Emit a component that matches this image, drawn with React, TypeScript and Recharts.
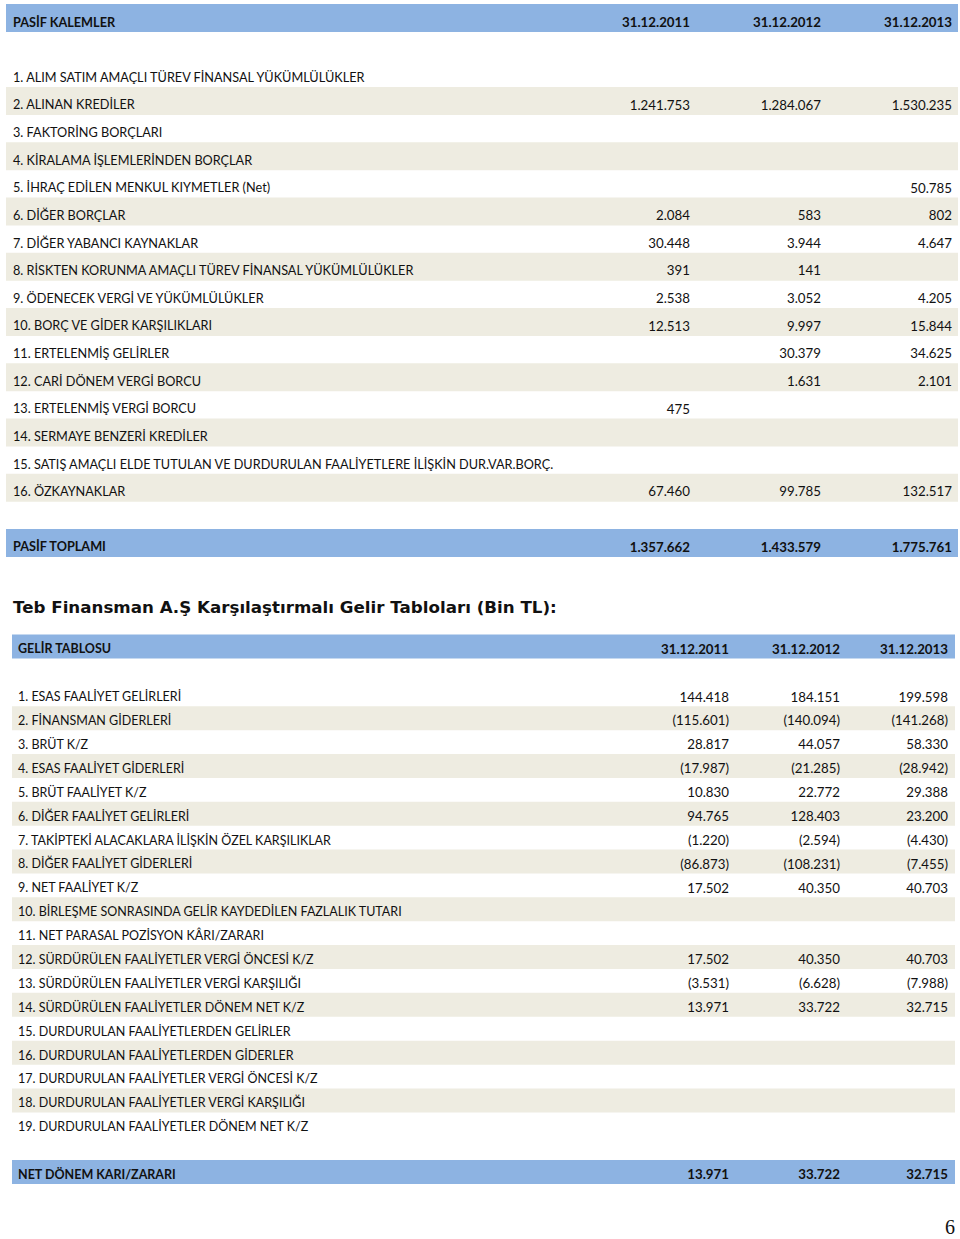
import React from 'react';
import { Surface, Rectangle, Text } from 'recharts';

// ---- Pasif kalemler (bilanço) ----
const pasifYears = ['31.12.2011', '31.12.2012', '31.12.2013'];
const pasifLabels = [
  '1. ALIM SATIM AMAÇLI TÜREV FİNANSAL YÜKÜMLÜLÜKLER',
  '2. ALINAN KREDİLER',
  '3. FAKTORİNG BORÇLARI',
  '4. KİRALAMA İŞLEMLERİNDEN BORÇLAR',
  '5. İHRAÇ EDİLEN MENKUL KIYMETLER (Net)',
  '6. DİĞER BORÇLAR',
  '7. DİĞER YABANCI KAYNAKLAR',
  '8. RİSKTEN KORUNMA AMAÇLI TÜREV FİNANSAL YÜKÜMLÜLÜKLER',
  '9. ÖDENECEK VERGİ VE YÜKÜMLÜLÜKLER',
  '10. BORÇ VE GİDER KARŞILIKLARI',
  '11. ERTELENMİŞ GELİRLER',
  '12. CARİ DÖNEM VERGİ BORCU',
  '13. ERTELENMİŞ VERGİ BORCU',
  '14. SERMAYE BENZERİ KREDİLER',
  '15. SATIŞ AMAÇLI ELDE TUTULAN VE DURDURULAN FAALİYETLERE İLİŞKİN DUR.VAR.BORÇ.',
  '16. ÖZKAYNAKLAR',
];
const pasif2011 = [null, 1241753, null, null, null, 2084, 30448, 391, 2538, 12513, null, null, 475, null, null, 67460];
const pasif2012 = [null, 1284067, null, null, null, 583, 3944, 141, 3052, 9997, 30379, 1631, null, null, null, 99785];
const pasif2013 = [null, 1530235, null, null, 50785, 802, 4647, null, 4205, 15844, 34625, 2101, null, null, null, 132517];
const pasifTotal = [1357662, 1433579, 1775761];

// ---- Gelir tablosu ----
const gelirTitle = 'Teb Finansman A.Ş Karşılaştırmalı Gelir Tabloları (Bin TL):';
const gelirLabels = [
  '1. ESAS FAALİYET GELİRLERİ',
  '2. FİNANSMAN GİDERLERİ',
  '3. BRÜT K/Z',
  '4. ESAS FAALİYET GİDERLERİ',
  '5. BRÜT FAALİYET K/Z',
  '6. DİĞER FAALİYET GELİRLERİ',
  '7. TAKİPTEKİ ALACAKLARA İLİŞKİN ÖZEL KARŞILIKLAR',
  '8. DİĞER FAALİYET GİDERLERİ',
  '9. NET FAALİYET K/Z',
  '10. BİRLEŞME SONRASINDA GELİR KAYDEDİLEN FAZLALIK TUTARI',
  '11. NET PARASAL POZİSYON KÂRI/ZARARI',
  '12. SÜRDÜRÜLEN FAALİYETLER VERGİ ÖNCESİ K/Z',
  '13. SÜRDÜRÜLEN FAALİYETLER VERGİ KARŞILIĞI',
  '14. SÜRDÜRÜLEN FAALİYETLER DÖNEM NET K/Z',
  '15. DURDURULAN FAALİYETLERDEN GELİRLER',
  '16. DURDURULAN FAALİYETLERDEN GİDERLER',
  '17. DURDURULAN FAALİYETLER VERGİ ÖNCESİ K/Z',
  '18. DURDURULAN FAALİYETLER VERGİ KARŞILIĞI',
  '19. DURDURULAN FAALİYETLER DÖNEM NET K/Z',
];
const gelir2011 = [144418, -115601, 28817, -17987, 10830, 94765, -1220, -86873, 17502, null, null, 17502, -3531, 13971, null, null, null, null, null];
const gelir2012 = [184151, -140094, 44057, -21285, 22772, 128403, -2594, -108231, 40350, null, null, 40350, -6628, 33722, null, null, null, null, null];
const gelir2013 = [199598, -141268, 58330, -28942, 29388, 23200, -4430, -7455, 40703, null, null, 40703, -7988, 32715, null, null, null, null, null];
const gelirNet = [13971, 33722, 32715];

const BLUE = '#8DB3E2';
const BEIGE = '#EEECE1';
const FONT = 'Lato, "Open Sans", sans-serif';

function fmt(v: number | null) {
  if (v === null) return '';
  const s = Math.abs(v).toString().replace(/\B(?=(\d{3})+(?!\d))/g, '.');
  return v < 0 ? `(${s})` : s;
}

interface TableProps {
  top: number; // center of header text
  step: number;
  left: number;
  right: number;
  textX: number;
  colX: number[];
  bandUp: number;
  bandDown: number;
  labelSize: number;
  numSize: number;
  head: string;
  years: string[];
  labels: string[];
  cols: (number | null)[][];
  totalLabel: string;
  totals: number[];
}

function Table(p: TableProps) {
  const rowY = (i: number) => p.top + (i + 2) * p.step;
  const totalY = p.top + (p.labels.length + 3) * p.step;
  const band = (y: number, fill: string, key: string) => (
    <Rectangle key={key} x={p.left} y={y - p.bandUp} width={p.right - p.left} height={p.bandUp + p.bandDown} fill={fill} />
  );
  const txt = (x: number, y: number, s: string, anchor: 'start' | 'end', bold: boolean, size: number, key: string) => (
    <Text key={key} x={x} y={y} textAnchor={anchor} verticalAnchor="middle" fontFamily={FONT} fontSize={size}
      fontWeight={bold ? 700 : 400} fill="#111">
      {s}
    </Text>
  );
  return (
    <g>
      {band(p.top, BLUE, 'hb')}
      {p.labels.map((_, i) => (i % 2 === 1 ? band(rowY(i), BEIGE, `b${i}`) : null))}
      {band(totalY, BLUE, 'tb')}
      {txt(p.textX, p.top, p.head, 'start', true, p.labelSize, 'h')}
      {p.years.map((y, j) => txt(p.colX[j], p.top, y, 'end', true, p.numSize, `y${j}`))}
      {p.labels.map((l, i) => (
        <g key={`r${i}`}>
          {txt(p.textX, rowY(i), l, 'start', false, p.labelSize, 'l')}
          {p.cols.map((c, j) => txt(p.colX[j], rowY(i), fmt(c[i]), 'end', false, p.numSize, `v${j}`))}
        </g>
      ))}
      {txt(p.textX, totalY, p.totalLabel, 'start', true, p.labelSize, 't')}
      {p.totals.map((v, j) => txt(p.colX[j], totalY, fmt(v), 'end', true, p.numSize, `t${j}`))}
    </g>
  );
}

export default function App() {
  return (
    <div style={{ position: 'absolute', left: 0, top: 0, width: 960, height: 1239, background: '#fff' }}>
      <Surface width={960} height={1239}>
        <Table top={22} step={27.63} left={6} right={958} textX={13} colX={[690, 821, 952]}
          bandUp={18} bandDown={10} labelSize={12.7} numSize={13.3} head="PASİF KALEMLER" years={pasifYears}
          labels={pasifLabels} cols={[pasif2011, pasif2012, pasif2013]} totalLabel="PASİF TOPLAMI" totals={pasifTotal} />
        <Text x={13} y={607} verticalAnchor="middle" fontFamily='"DejaVu Sans", Verdana, sans-serif'
          fontSize={16.7} fontWeight={700} fill="#111">
          {gelirTitle}
        </Text>
        <Table top={649} step={23.89} left={12} right={955} textX={18} colX={[729, 840, 948]}
          bandUp={14.5} bandDown={9.5} labelSize={12.5} numSize={13.3} head="GELİR TABLOSU" years={pasifYears}
          labels={gelirLabels} cols={[gelir2011, gelir2012, gelir2013]} totalLabel="NET DÖNEM KARI/ZARARI" totals={gelirNet} />
        <Text x={955} y={1227} textAnchor="end" verticalAnchor="middle" fontFamily='"Liberation Serif", serif'
          fontSize={20} fill="#111">
          6
        </Text>
      </Surface>
    </div>
  );
}
